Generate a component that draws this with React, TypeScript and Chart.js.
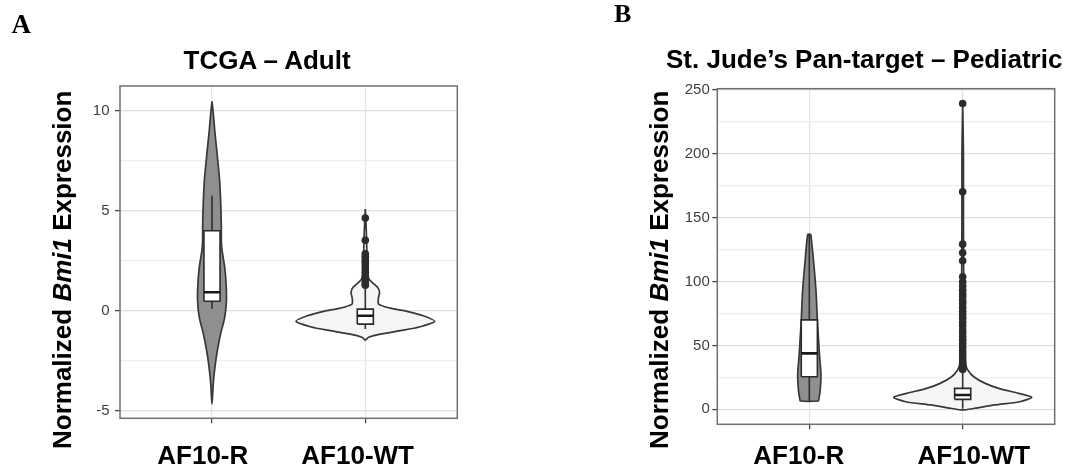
import React, { useEffect, useRef } from "react";
import { Chart, registerables } from "chart.js";

Chart.register(...registerables);

const SANS = "'Liberation Sans', Arial, Helvetica, sans-serif";
const SERIF = "'Liberation Serif', 'Times New Roman', serif";

// ---------- shared ----------
const categories = ["AF10-R", "AF10-WT"];

// ---------- Panel A: TCGA – Adult ----------
const aTitle = "TCGA – Adult";
const aTickValues = [-5, -2.5, 0, 2.5, 5, 7.5, 10];
const aTickLabels = ["-5", "", "0", "", "5", "", "10"];
const aYMin = -5.38;
const aYMax = 11.235;

const aRLevels = [10.47, 9.9, 9.08, 8.25, 7.4, 6.6, 5.75, 4.9, 4.08, 3.5, 3.0, 2.17, 1.33, 0.5, -0.33, -1.17, -2.0, -2.83, -3.67, -4.67];
const aRHalfWidths = [0, 0.008, 0.017, 0.028, 0.039, 0.049, 0.055, 0.059, 0.061, 0.061, 0.066, 0.083, 0.092, 0.094, 0.083, 0.056, 0.035, 0.019, 0.008, 0];
const aWTLevels = [5.08, 4.0, 3.0, 2.0, 1.6, 1.42, 1.17, 0.92, 0.6, 0.33, 0.13, -0.03, -0.25, -0.53, -0.8, -1.0, -1.17, -1.33, -1.47];
const aWTHalfWidths = [0, 0.0065, 0.01, 0.013, 0.023, 0.044, 0.08, 0.093, 0.085, 0.087, 0.163, 0.272, 0.378, 0.453, 0.359, 0.228, 0.098, 0.022, 0];

const aQ1 = [0.47, -0.67];
const aMedian = [0.92, -0.25];
const aQ3 = [4.0, 0.08];
const aWhiskerLow = [0.1, -0.92];
const aWhiskerHigh = [5.75, 1.2];
const aROutliers: number[] = [];
const aWTOutliers = [4.63, 3.52, 2.85, 2.72, 2.6, 2.47, 2.35, 2.2, 2.05, 1.92, 1.8, 1.68, 1.55, 1.45, 1.35, 1.27];

// ---------- Panel B: St. Jude's Pan-target – Pediatric ----------
const bTitle = "St. Jude’s Pan-target – Pediatric";
const bTickValues = [0, 25, 50, 75, 100, 125, 150, 175, 200, 225, 250];
const bTickLabels = ["0", "", "50", "", "100", "", "150", "", "200", "", "250"];
const bYMin = -11.74;
const bYMax = 251.0;

const bRLevels = [136.9, 118.2, 92, 71.2, 52.9, 39.9, 26.8, 13.8, 8.0, 6.5];
const bRHalfWidths = [0.01, 0.026, 0.044, 0.052, 0.061, 0.068, 0.076, 0.07, 0.062, 0.059];
const bWTLevels = [239.4, 200, 150, 100, 50, 35, 30.8, 25.5, 20.3, 16.4, 12.5, 9.4, 5.9, 3.4, 0.8, -0.5];
const bWTHalfWidths = [0, 0.005, 0.005, 0.0065, 0.01, 0.02, 0.033, 0.072, 0.147, 0.235, 0.365, 0.45, 0.372, 0.209, 0.078, 0];

const bQ1 = [25.5, 7.8];
const bMedian = [43.8, 11.2];
const bQ3 = [70.0, 16.4];
const bWhiskerLow = [6.5, 0.5];
const bWhiskerHigh = [136.9, 30.5];
const bROutliers: number[] = [];
const bWTOutliers = [239.4, 170.3, 129.3, 122.5, 116.3, 103.8, 99.8, 96.5, 93.3, 90.4, 88.1, 85.2, 82.9, 79.8, 76.7, 73.9, 71.2, 68.4, 65.6, 62.3, 59.7, 56.8, 54.1, 51.5, 48.6, 46.0, 43.4, 41.1, 38.7, 36.5, 34.4, 32.6, 31.2];

// ---------- styling ----------
const VIOLIN_FILLS = ["#8f8f8f", "#f5f5f5"];
const OUTLINE = "#383838";
const BOX_WIDTH = 0.105;

type Panel = {
  tickValues: number[];
  tickLabels: string[];
  yMin: number;
  yMax: number;
  levels: number[][];
  halfWidths: number[][];
  q1: number[];
  median: number[];
  q3: number[];
  whiskerLow: number[];
  whiskerHigh: number[];
  outliers: number[][];
  layout: {
    canvasLeft: number;
    canvasWidth: number;
    padTop: number;
    padRight: number;
    yAxisWidth: number;
    xlHeight: number;
    yLabelPad: number;
    xLabelPad: number;
    labelShift: number[];
  };
};

const panelA: Panel = {
  tickValues: aTickValues,
  tickLabels: aTickLabels,
  yMin: aYMin,
  yMax: aYMax,
  levels: [aRLevels, aWTLevels],
  halfWidths: [aRHalfWidths, aWTHalfWidths],
  q1: aQ1,
  median: aMedian,
  q3: aQ3,
  whiskerLow: aWhiskerLow,
  whiskerHigh: aWhiskerHigh,
  outliers: [aROutliers, aWTOutliers],
  layout: {
    canvasLeft: 0,
    canvasWidth: 470,
    padTop: 86,
    padRight: 12.7,
    yAxisWidth: 120,
    xlHeight: 42.7,
    yLabelPad: 5.5,
    xLabelPad: 10,
    labelShift: [-0.06, -0.05],
  },
};

const panelB: Panel = {
  tickValues: bTickValues,
  tickLabels: bTickLabels,
  yMin: bYMin,
  yMax: bYMax,
  levels: [bRLevels, bWTLevels],
  halfWidths: [bRHalfWidths, bWTHalfWidths],
  q1: bQ1,
  median: bMedian,
  q3: bQ3,
  whiskerLow: bWhiskerLow,
  whiskerHigh: bWhiskerHigh,
  outliers: [bROutliers, bWTOutliers],
  layout: {
    canvasLeft: 560,
    canvasWidth: 523,
    padTop: 88.7,
    padRight: 28.3,
    yAxisWidth: 157.3,
    xlHeight: 36.7,
    yLabelPad: 2.5,
    xLabelPad: 4,
    labelShift: [-0.069, 0.072],
  },
};

function violinPoints(center: number, levels: number[], half: number[]) {
  const pts: { x: number; y: number }[] = [];
  const push = (p: { x: number; y: number }) => {
    const last = pts[pts.length - 1];
    if (!last || last.x !== p.x || last.y !== p.y) pts.push(p);
  };
  levels.forEach((y, i) => push({ x: center + half[i], y }));
  for (let i = levels.length - 1; i >= 0; i--) push({ x: center - half[i], y: levels[i] });
  push({ ...pts[0] });
  return pts;
}

const panelBorder = {
  id: "panelBorder",
  afterDatasetsDraw(chart: any) {
    const { ctx, chartArea } = chart;
    const { left, top, right, bottom } = chartArea;
    ctx.save();
    ctx.strokeStyle = "#707070";
    ctx.lineWidth = 1.5;
    ctx.strokeRect(left, top, right - left, bottom - top);
    ctx.restore();
  },
};

function buildConfig(s: Panel): any {
  const datasets: any[] = [];
  datasets.push({
    data: s.outliers.flatMap((arr, i) => arr.map((v) => ({ x: i + 1, y: v }))),
    showLine: false,
    pointRadius: 3.8,
    pointBackgroundColor: "#2c2c2c",
    pointBorderWidth: 0,
    order: 0,
  });
  categories.forEach((_, i) => {
    const c = i + 1;
    const w = BOX_WIDTH / 2;
    datasets.push({
      data: [
        { x: c - w, y: s.median[i] },
        { x: c + w, y: s.median[i] },
      ],
      showLine: true,
      borderColor: "#1a1a1a",
      borderWidth: 2.6,
      pointRadius: 0,
      order: 1,
    });
    datasets.push({
      data: [
        { x: c - w, y: s.q1[i] },
        { x: c + w, y: s.q1[i] },
        { x: c + w, y: s.q3[i] },
        { x: c - w, y: s.q3[i] },
        { x: c - w, y: s.q1[i] },
      ],
      showLine: true,
      fill: "shape",
      backgroundColor: "#ffffff",
      borderColor: "#2a2a2a",
      borderWidth: 1.6,
      pointRadius: 0,
      order: 2,
    });
    datasets.push({
      data: [
        { x: c, y: s.q3[i] },
        { x: c, y: s.whiskerHigh[i] },
      ],
      showLine: true,
      borderColor: "#303030",
      borderWidth: 1.6,
      pointRadius: 0,
      order: 3,
    });
    datasets.push({
      data: [
        { x: c, y: s.q1[i] },
        { x: c, y: s.whiskerLow[i] },
      ],
      showLine: true,
      borderColor: "#303030",
      borderWidth: 1.6,
      pointRadius: 0,
      order: 3,
    });
    datasets.push({
      data: violinPoints(c, s.levels[i], s.halfWidths[i]),
      showLine: true,
      fill: "shape",
      backgroundColor: VIOLIN_FILLS[i],
      borderColor: OUTLINE,
      borderWidth: 1.7,
      tension: 0.25,
      pointRadius: 0,
      order: 4,
    });
  });

  const L = s.layout;
  const isMajor = (i: number) => s.tickLabels[i] !== "";

  return {
    type: "scatter",
    data: { datasets },
    plugins: [panelBorder],
    options: {
      animation: false,
      responsive: false,
      maintainAspectRatio: false,
      layout: { padding: { left: 0, top: L.padTop, right: L.padRight, bottom: 0 } },
      plugins: {
        legend: { display: false },
        tooltip: { enabled: false },
        title: { display: false },
      },
      scales: {
        x: {
          type: "linear",
          position: "bottom",
          weight: 0,
          min: 0.4,
          max: 2.6,
          afterBuildTicks: (sc: any) => {
            sc.ticks = categories.map((_, i) => ({ value: i + 1 }));
          },
          ticks: { display: false },
          grid: {
            color: "#e3e3e3",
            lineWidth: 1.2,
            drawTicks: true,
            tickLength: 5,
            tickColor: "#444444",
            tickWidth: 1.3,
          },
          border: { display: false },
          afterFit: (sc: any) => {
            sc.height = 5;
          },
        },
        xl: {
          type: "linear",
          position: "bottom",
          weight: 1,
          min: 0.4,
          max: 2.6,
          afterBuildTicks: (sc: any) => {
            sc.ticks = categories.map((_, i) => ({ value: i + 1 + L.labelShift[i] }));
          },
          ticks: {
            callback: (_v: any, i: number) => categories[i],
            font: { family: SANS, size: 26, weight: "bold" },
            color: "#000000",
            padding: L.xLabelPad,
            autoSkip: false,
            maxRotation: 0,
          },
          grid: { display: false },
          border: { display: false },
          afterFit: (sc: any) => {
            sc.height = L.xlHeight;
          },
        },
        y: {
          type: "linear",
          position: "left",
          min: s.yMin,
          max: s.yMax,
          afterBuildTicks: (sc: any) => {
            sc.ticks = s.tickValues.map((v) => ({ value: v }));
          },
          ticks: {
            callback: (_v: any, i: number) => s.tickLabels[i],
            font: { family: SANS, size: 15 },
            color: "#3f3f3f",
            padding: L.yLabelPad,
            autoSkip: false,
          },
          grid: {
            color: (ctx: any) => (isMajor(ctx.index) ? "#dedede" : "#eeeeee"),
            tickColor: (ctx: any) => (isMajor(ctx.index) ? "#444444" : "rgba(0,0,0,0)"),
            lineWidth: 1.2,
            tickWidth: 1.3,
            drawTicks: true,
            tickLength: 5,
          },
          border: { display: false },
          afterFit: (sc: any) => {
            sc.width = L.yAxisWidth;
          },
        },
      },
    },
  };
}

function PanelChart({ spec }: { spec: Panel }) {
  const ref = useRef<HTMLCanvasElement>(null);
  useEffect(() => {
    if (!ref.current) return;
    const chart = new Chart(ref.current, buildConfig(spec));
    return () => chart.destroy();
  }, [spec]);
  const L = spec.layout;
  return (
    <canvas
      ref={ref}
      width={L.canvasWidth}
      height={466}
      style={{ position: "absolute", left: L.canvasLeft, top: 0, width: L.canvasWidth, height: 466 }}
    />
  );
}

const textBase: React.CSSProperties = {
  position: "absolute",
  whiteSpace: "nowrap",
  lineHeight: 1,
  margin: 0,
  color: "#000",
};

function YTitle({ left, top }: { left: number; top: number }) {
  return (
    <div
      style={{
        ...textBase,
        left,
        top,
        fontFamily: SANS,
        fontWeight: "bold",
        fontSize: 26,
        transformOrigin: "0 0",
        transform: "rotate(-90deg)",
      }}
    >
      Normalized <i>Bmi1</i> Expression
    </div>
  );
}

export default function App() {
  return (
    <div
      style={{
        position: "absolute",
        left: 0,
        top: 0,
        width: 1083,
        height: 466,
        background: "#ffffff",
        overflow: "hidden",
      }}
    >
      <PanelChart spec={panelA} />
      <PanelChart spec={panelB} />
      <div style={{ ...textBase, left: 11.4, top: 11, fontFamily: SERIF, fontWeight: "bold", fontSize: 27 }}>A</div>
      <div style={{ ...textBase, left: 614, top: 1.4, fontFamily: SERIF, fontWeight: "bold", fontSize: 26 }}>B</div>
      <div style={{ ...textBase, left: 183.5, top: 47.3, fontFamily: SANS, fontWeight: "bold", fontSize: 26 }}>{aTitle}</div>
      <div style={{ ...textBase, left: 666, top: 46.3, fontFamily: SANS, fontWeight: "bold", fontSize: 26 }}>{bTitle}</div>
      <YTitle left={49.3} top={448.7} />
      <YTitle left={645.6} top={448.7} />
    </div>
  );
}
